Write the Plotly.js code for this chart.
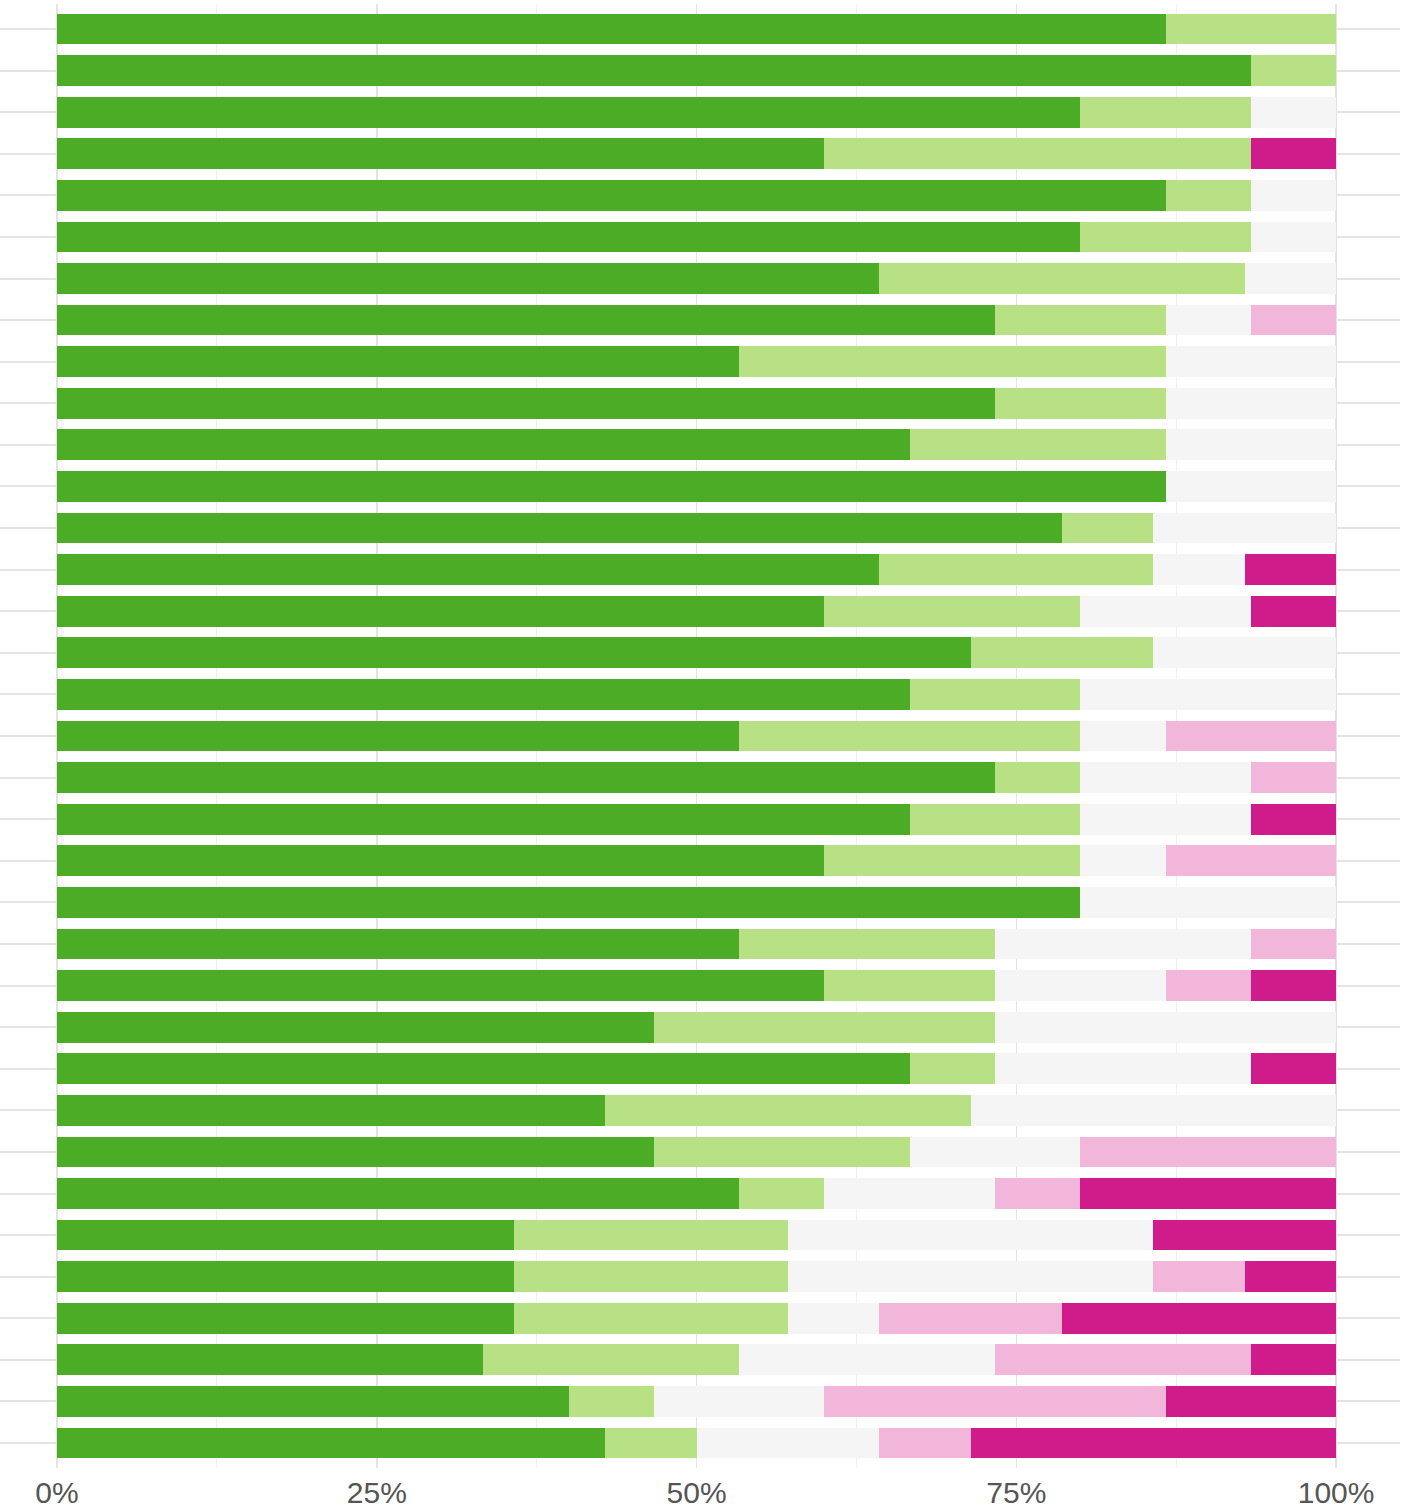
<!DOCTYPE html>
<html>
<head>
<meta charset="utf-8">
<script src="https://cdn.plot.ly/plotly-3.0.1.min.js"></script>
<style>
  html, body { margin: 0; padding: 0; background: #ffffff; }
  #chart { width: 1406px; height: 1512px; }
</style>
</head>
<body>
<div id="chart"></div>
<script>
// 35 items, top to bottom
const items = [
  "Item 1","Item 2","Item 3","Item 4","Item 5","Item 6","Item 7","Item 8","Item 9","Item 10",
  "Item 11","Item 12","Item 13","Item 14","Item 15","Item 16","Item 17","Item 18","Item 19","Item 20",
  "Item 21","Item 22","Item 23","Item 24","Item 25","Item 26","Item 27","Item 28","Item 29","Item 30",
  "Item 31","Item 32","Item 33","Item 34","Item 35"
];

// response counts per item (normalised to fractions by the chart)
const stronglyPositive = [13,14,12,9,13,12,9,11,8,11,10,13,11,9,9,10,10,8,11,10,9,12,8,9,7,10,6,7,8,5,5,5,5,6,6];
const positive         = [2,1,2,5,1,2,4,2,5,2,3,0,1,3,3,2,2,4,1,2,3,0,3,2,4,1,4,3,1,3,3,3,3,1,1];
const neutral          = [0,0,1,0,1,1,1,1,2,2,2,2,2,1,2,2,3,1,2,2,1,3,3,2,4,3,4,2,2,4,4,1,3,2,2];
const negative         = [0,0,0,0,0,0,0,1,0,0,0,0,0,0,0,0,0,2,1,0,2,0,1,1,0,0,0,3,1,0,1,2,3,4,1];
const stronglyNegative = [0,0,0,1,0,0,0,0,0,0,0,0,0,1,1,0,0,0,0,1,0,0,0,1,0,1,0,0,3,2,1,3,1,2,4];

const seriesNames  = ["Strongly positive","Positive","Neutral","Negative","Strongly negative"];
const seriesValues = [stronglyPositive, positive, neutral, negative, stronglyNegative];
const seriesColors = ["#4dac26","#b8e186","#f5f5f5","#f1b6da","#d01c8b"];

const xTickVals  = [0, 0.25, 0.5, 0.75, 1];
const xTickTexts = ["0%","25%","50%","75%","100%"];

const traces = seriesValues.map((vals, i) => ({
  type: "bar",
  orientation: "h",
  name: seriesNames[i],
  y: items,
  x: vals,
  marker: { color: seriesColors[i], line: { width: 0 } },
  hoverinfo: "skip"
}));

const layout = {
  width: 1406,
  height: 1512,
  margin: { l: 0, r: 6, t: 4, b: 44 },
  paper_bgcolor: "#ffffff",
  plot_bgcolor: "#ffffff",
  barmode: "stack",
  barnorm: "fraction",
  bargap: 0.26,
  showlegend: false,
  font: { family: "Liberation Sans, Arial, sans-serif", color: "#4d4d4d" },
  xaxis: {
    range: [-0.0446, 1.05],
    tickvals: xTickVals,
    ticktext: xTickTexts,
    showgrid: true,
    gridcolor: "#e3e3e3",
    gridwidth: 1.5,
    minor: { dtick: 0.125, tick0: 0, showgrid: true, gridcolor: "#efefef", gridwidth: 1 },
    zeroline: false,
    showline: false,
    ticks: "",
    tickfont: { size: 30, color: "#555555" },
    ticklabelstandoff: 4,
    fixedrange: true
  },
  yaxis: {
    type: "category",
    range: [34.6, -0.6],
    showticklabels: false,
    showgrid: true,
    gridcolor: "#e3e3e3",
    gridwidth: 2,
    zeroline: false,
    showline: false,
    ticks: "",
    fixedrange: true
  }
};

Plotly.newPlot("chart", traces, layout, { displayModeBar: false, staticPlot: true });
</script>
</body>
</html>
